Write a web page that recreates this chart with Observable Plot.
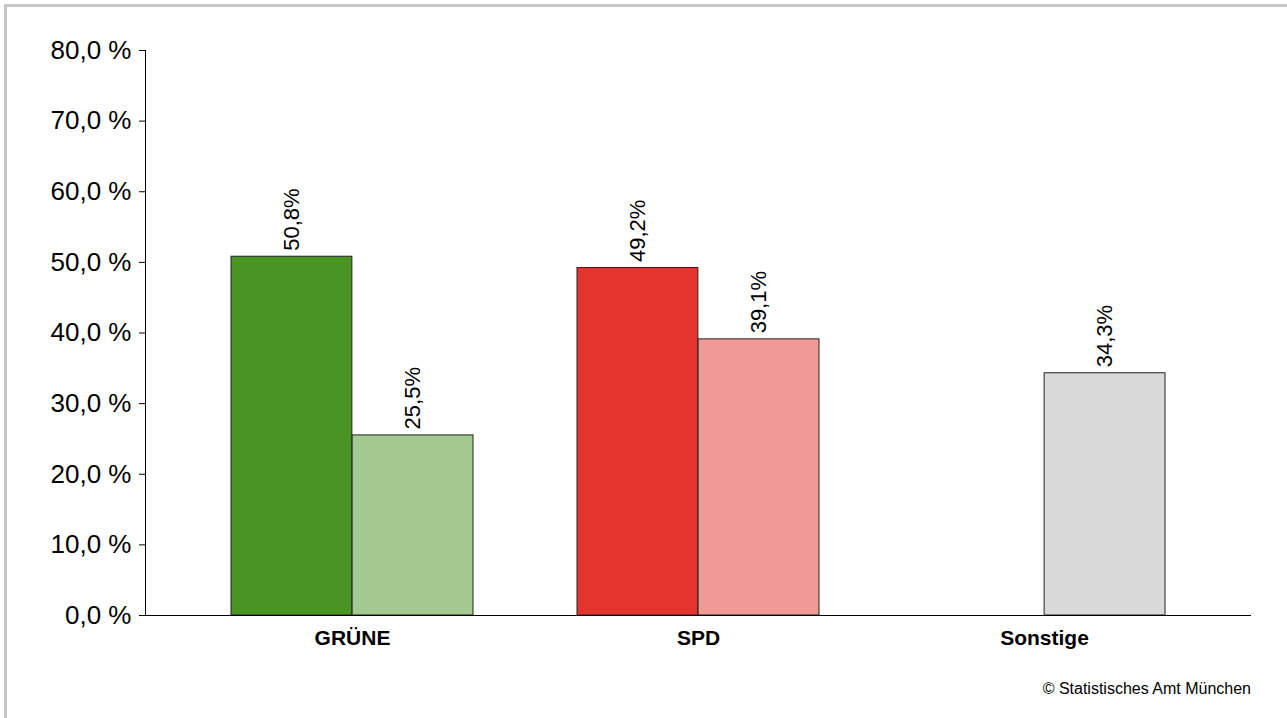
<!DOCTYPE html>
<html>
<head>
<meta charset="utf-8">
<script src="https://cdn.jsdelivr.net/npm/d3@7"></script>
<script src="https://cdn.jsdelivr.net/npm/@observablehq/plot@0.6"></script>
<style>
  html, body { margin: 0; padding: 0; background: #fff; }
  body { width: 1287px; height: 718px; position: relative; overflow: hidden; font-family: "Liberation Sans", Arial, sans-serif; }
  #frame { position: absolute; left: 4px; top: 4px; right: 0; bottom: 0; border-top: 3px solid #c6c6c6; border-left: 3px solid #c6c6c6; pointer-events: none; }
  #chart svg { display: block; }
  #caption { text-align: right; padding-right: 36px; padding-top: 15px; font-size: 16px; line-height: 18px; color: #000; }
</style>
</head>
<body>
<div id="chart"></div>
<div id="caption">© Statistisches Amt München</div>
<div id="frame"></div>
<script>
const categories = ["GRÜNE", "SPD", "Sonstige"];
const valuesA = [50.8, 49.2, null];
const valuesB = [25.5, 39.1, 34.3];
const colorsA = ["#4a9424", "#e3342e", "#d9d9d9"];
const colorsB = ["#a3c991", "#f09995", "#d9d9d9"];
const yTicks = [0, 10, 20, 30, 40, 50, 60, 70, 80];

const rowsA = [], rowsB = [];
categories.forEach((c, i) => {
  if (valuesA[i] != null) rowsA.push({party: c, value: valuesA[i], color: colorsA[i]});
  if (valuesB[i] != null) rowsB.push({party: c, value: valuesB[i], color: colorsB[i]});
});

const W = 1287, H = 665, mL = 145, mR = 36, mT = 50, mB = 50;
const xOpts = {type: "band", domain: categories, paddingInner: 0.3, paddingOuter: 0.248};
const xs = Plot.scale({x: {...xOpts, range: [mL, W - mR]}});
const half = xs.bandwidth / 2;

const fmtAxis = d => d.toFixed(1).replace(".", ",") + " %";
const fmtVal = d => d.toFixed(1).replace(".", ",") + "%";

const chart = Plot.plot({
  width: W,
  height: H,
  marginLeft: mL,
  marginRight: mR,
  marginTop: mT,
  marginBottom: mB,
  style: {fontFamily: "'Liberation Sans', Arial, sans-serif", color: "#000", background: "#fff"},
  x: {...xOpts, label: null},
  y: {domain: [0, 80], label: null},
  color: {type: "identity"},
  marks: [
    Plot.barY(rowsA, {x: "party", y: "value", fill: "color", stroke: "#222", strokeWidth: 1, insetLeft: 0, insetRight: half}),
    Plot.barY(rowsB, {x: "party", y: "value", fill: "color", stroke: "#222", strokeWidth: 1, insetLeft: half, insetRight: 0}),
    Plot.text(rowsA, {x: "party", y: "value", text: d => fmtVal(d.value), rotate: -90, textAnchor: "start", dx: -half / 2, dy: -6, fontSize: 22, fill: "#000"}),
    Plot.text(rowsB, {x: "party", y: "value", text: d => fmtVal(d.value), rotate: -90, textAnchor: "start", dx: half / 2, dy: -6, fontSize: 22, fill: "#000"}),
    Plot.ruleY([0], {stroke: "#000", strokeWidth: 1}),
    Plot.frame({anchor: "left", stroke: "#000", strokeWidth: 1}),
    Plot.axisY({ticks: yTicks, tickFormat: fmtAxis, tickSize: 6, tickPadding: 8, fontSize: 26, label: null}),
    Plot.axisX({anchor: "bottom", tickSize: 0, tickPadding: 15, fontSize: 21, fontWeight: "bold", label: null})
  ]
});
document.getElementById("chart").appendChild(chart);
</script>
</body>
</html>
